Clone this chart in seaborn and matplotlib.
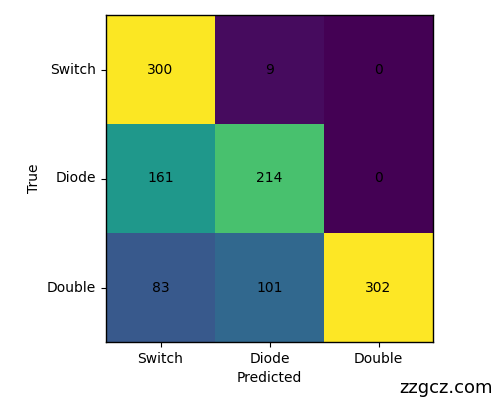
import numpy as np
import pandas as pd
import seaborn as sns
import matplotlib
matplotlib.use('Agg')
import matplotlib.pyplot as plt

labels = ['Switch', 'Diode', 'Double']
switch_row = [300, 9, 0]
diode_row = [161, 214, 0]
double_row = [83, 101, 302]

cm = pd.DataFrame([switch_row, diode_row, double_row], index=labels, columns=labels)

fig = plt.figure(figsize=(5, 4), dpi=100)
ax = fig.add_axes([0.212, 0.145, 0.654, 0.8175])
sns.heatmap(cm, annot=True, fmt='d', cmap='viridis', cbar=False, ax=ax,
            annot_kws={'color': 'black', 'fontsize': 10})

for s in ax.spines.values():
    s.set_visible(True)
    s.set_color('black')
    s.set_linewidth(1)

ax.set_xlabel('Predicted')
ax.set_ylabel('True')
ax.tick_params(axis='y', rotation=0)
ax.tick_params(axis='x', rotation=0)

fig.text(0.893, 0.031, 'zzgcz.com', ha='center', va='center', fontsize=13)

fig.savefig('out.png', dpi=100)
